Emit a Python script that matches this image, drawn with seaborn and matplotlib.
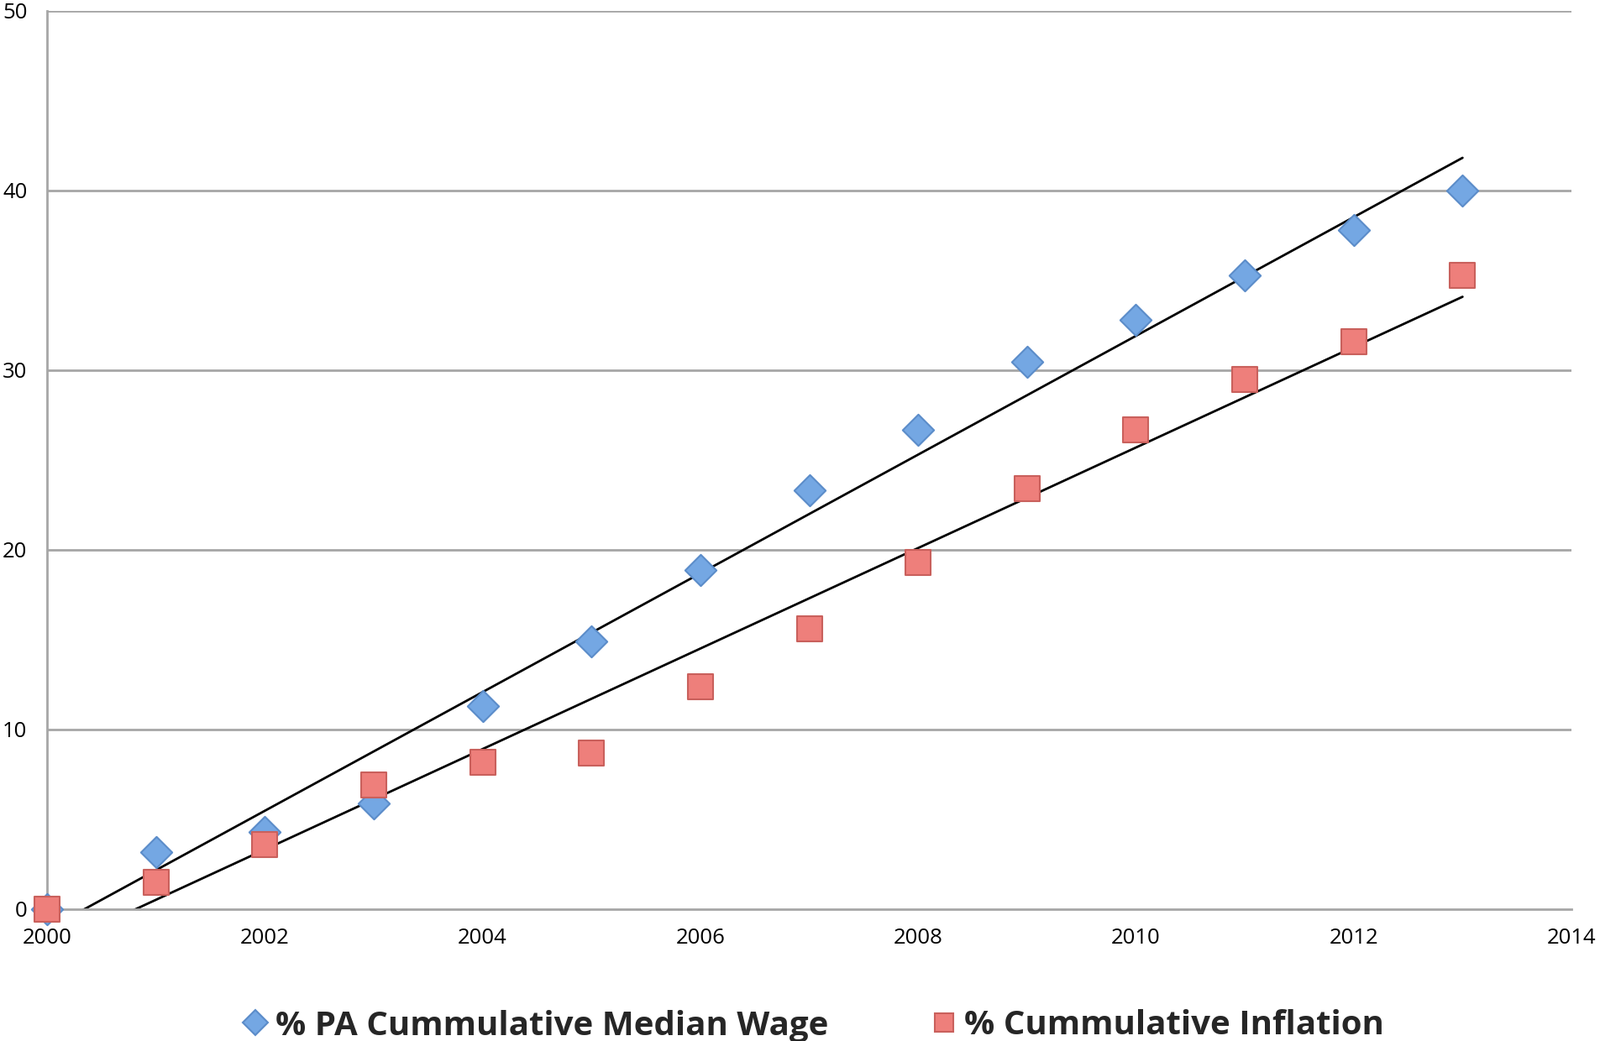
import numpy as np
import pandas as pd
import matplotlib
matplotlib.use("Agg")
import matplotlib.pyplot as plt
import seaborn as sns

years = [2000, 2001, 2002, 2003, 2004, 2005, 2006, 2007, 2008, 2009, 2010, 2011, 2012, 2013]
wage = [0.0, 3.2, 4.3, 5.9, 11.3, 14.9, 18.9, 23.3, 26.7, 30.45, 32.8, 35.3, 37.8, 40.0]
inflation = [0.0, 1.5, 3.6, 6.9, 8.2, 8.7, 12.4, 15.6, 19.3, 23.4, 26.7, 29.5, 31.6, 35.3]
series_names = ["% PA Cummulative Median Wage", "% Cummulative Inflation"]
x_ticks = [2000, 2002, 2004, 2006, 2008, 2010, 2012, 2014]
y_ticks = [0, 10, 20, 30, 40, 50]

df = pd.DataFrame({
    "year": years * 2,
    "value": wage + inflation,
    "series": [series_names[0]] * len(years) + [series_names[1]] * len(years),
})

sns.set_style("white")
plt.rcParams["font.family"] = ["Open Sans", "DejaVu Sans"]

fig = plt.figure(figsize=(19.05, 12.4), dpi=100)
ax = fig.add_axes([56 / 1905, 1 - 1083 / 1240, (1871 - 56) / 1905, (1083 - 13) / 1240])

grid_c = "#a6a6a6"
for yv in y_ticks[1:]:
    ax.axhline(yv, color=grid_c, lw=2, zorder=0)

# trend lines
for vals in (wage, inflation):
    sns.regplot(x=np.array(years, float), y=np.array(vals), ax=ax, scatter=False, ci=None,
                truncate=True, color="black", line_kws={"lw": 2, "zorder": 2})

styles = {
    series_names[0]: dict(marker="D", face="#74a7e3", edge="#5b8cc9", size=19, z=3),
    series_names[1]: dict(marker="s", face="#ee7f7b", edge="#c9605c", size=22, z=4),
}
for name in series_names:
    st = styles[name]
    sub = df[df.series == name]
    sns.scatterplot(data=sub, x="year", y="value", ax=ax, marker=st["marker"],
                    s=st["size"] ** 2, color=st["face"], edgecolor=st["edge"],
                    linewidth=1.5, zorder=st["z"], legend=False, clip_on=False)

ax.set_xlim(2000, 2014)
ax.set_ylim(0, 50)
ax.set_xticks(x_ticks)
ax.set_yticks(y_ticks)
ax.set_xlabel("")
ax.set_ylabel("")
for s in ["top", "right"]:
    ax.spines[s].set_visible(False)
for s in ["left", "bottom"]:
    ax.spines[s].set_color(grid_c)
    ax.spines[s].set_linewidth(2)
ax.tick_params(axis="both", which="both", length=8, width=2, color=grid_c,
               labelsize=18.5, labelcolor="black", direction="out")
ax.tick_params(axis="x", pad=8)
ax.tick_params(axis="y", pad=9)

# legend
from matplotlib.lines import Line2D
handles = [
    Line2D([], [], marker="D", ls="", markersize=15, markerfacecolor="#74a7e3",
           markeredgecolor="#5b8cc9", markeredgewidth=1.5),
    Line2D([], [], marker="s", ls="", markersize=16, markerfacecolor="#ee7f7b",
           markeredgecolor="#c9605c", markeredgewidth=1.5),
]
leg = fig.legend(handles, series_names, loc="center", bbox_to_anchor=(968 / 1905, 1 - 1222 / 1240),
                 ncol=2, frameon=False,
                 prop={"weight": "bold", "size": 29},
                 handletextpad=0.2, columnspacing=3.0, handlelength=0.8)

fig.savefig("out.png", dpi=100)
